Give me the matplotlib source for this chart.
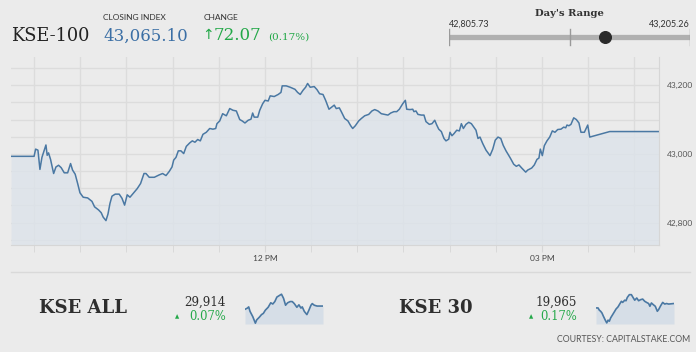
import matplotlib
matplotlib.use("Agg")
from matplotlib import pyplot as plt
import numpy as np

# ---- data (time = minutes after 09:00) ----
kse100_t = [15, 30, 31, 32.5, 33.8, 35.1, 36.6, 37.7, 38.5, 39.4, 40.7, 42.7, 44.2, 45.9,
             47.6, 49.6, 51.8, 53.7, 55, 56.7, 58.3, 59.8, 61.9, 64.8, 67.6, 69.3, 71.9,
             73.6, 74.9, 76.7, 78, 79.3, 80.6, 82.7, 85.3, 87.1, 88.8, 90.5, 92.3, 94.4,
             97, 99.2, 101.4, 102.7, 104.8, 108.1, 111.3, 113.5, 115.7, 117.8, 119.6,
             120.7, 122.2, 123.7, 125.4, 127.2, 128.9, 131.1, 132.8, 134.5, 136.3, 138,
             139.7, 141.9, 144.1, 146.2, 148, 148.8, 150.6, 152.5, 154.9, 157.1, 159.2,
             161.4, 163.6, 165.2, 167, 169.1, 170.9, 172, 173, 175.3, 176.6, 178.5, 180,
             182.1, 183.4, 186, 188.6, 190.4, 191.2, 193.8, 196.4, 199.5, 201.2, 202.9,
             204.7, 206.4, 207.7, 209.4, 212, 213.8, 215.5, 217.7, 219.4, 221.6, 223.3,
             225, 226.3, 228.3, 229.6, 231.8, 233.9, 235.7, 237, 238.7, 240.9, 242.6,
             244.8, 247.4, 249.5, 251.3, 253.4, 255.6, 257.8, 259.9, 261.7, 263.8, 265.6,
             267.3, 269.5, 271.2, 272.1, 274.2, 276, 276.8, 278.1, 279.4, 281.6, 283.3,
             284.6, 286.8, 288.5, 290.3, 291.6, 292.9, 294.6, 296.3, 297.6, 299.4, 300.2,
             301.5, 302.8, 304.6, 306.3, 307.6, 308.9, 310.6, 312.4, 314.1, 315.4, 317.1,
             318.4, 319.7, 321.5, 323.6, 326.2, 328, 329.6, 331.4, 333.2, 334.8, 336.6,
             339.4, 341.6, 343.3, 345, 346.8, 349.4, 350.7, 353.3, 355, 356.7, 358, 358.9,
             360.2, 361.5, 363.2, 365, 366.7, 368.4, 370.2, 372.3, 374.1, 375.4, 376.2,
             377.5, 378.8, 380.6, 382.3, 384, 385.3, 387.5, 389.7, 391, 404, 436]
kse100_v = [42993, 42993, 43014, 43011, 42955, 42990, 43011, 43026, 42996, 43003, 42984,
             42943, 42962, 42967, 42960, 42945, 42945, 42972, 42953, 42941, 42914, 42887,
             42874, 42872, 42862, 42846, 42837, 42829, 42816, 42806, 42825, 42856, 42877,
             42883, 42883, 42871, 42851, 42881, 42874, 42885, 42899, 42914, 42943, 42943,
             42932, 42932, 42939, 42943, 42937, 42949, 42962, 42982, 42990, 43009, 43009,
             43001, 43022, 43032, 43038, 43034, 43042, 43038, 43057, 43063, 43074, 43072,
             43074, 43088, 43096, 43117, 43111, 43132, 43127, 43125, 43100, 43096, 43090,
             43098, 43101, 43119, 43107, 43107, 43127, 43146, 43156, 43154, 43169, 43167,
             43173, 43179, 43198, 43198, 43194, 43188, 43179, 43173, 43185, 43194, 43205,
             43194, 43196, 43187, 43175, 43173, 43156, 43130, 43136, 43142, 43132, 43134,
             43123, 43103, 43096, 43082, 43074, 43082, 43096, 43103, 43111, 43115, 43125,
             43129, 43125, 43117, 43115, 43113, 43119, 43123, 43123, 43130, 43146, 43156,
             43130, 43129, 43130, 43123, 43125, 43115, 43113, 43113, 43094, 43086, 43088,
             43098, 43084, 43072, 43065, 43045, 43038, 43043, 43063, 43053, 43059, 43069,
             43067, 43088, 43074, 43086, 43092, 43088, 43080, 43069, 43045, 43049, 43030,
             43011, 42995, 43014, 43040, 43049, 43045, 43025, 43009, 42988, 42970, 42964,
             42968, 42959, 42947, 42953, 42959, 42968, 42984, 42988, 43014, 42995, 43024,
             43038, 43049, 43067, 43063, 43071, 43072, 43078, 43076, 43084, 43082, 43086,
             43105, 43100, 43090, 43063, 43063, 43084, 43049, 43065.1, 43065.1]

close_value = 43065.10
change = 72.07
change_pct = 0.17
day_low = 42805.73
day_high = 43205.26

y_labels = [42800, 43000, 43200]
x_labels = {180: "12 PM", 360: "03 PM"}

kse_all_t = [15, 28, 35, 42, 57, 71, 78, 93, 104, 114, 125, 140, 154, 165, 176, 187, 201,
             212, 223, 234, 245, 259, 270, 281, 295, 306, 317, 324, 335, 349, 360, 371,
             378, 389, 404, 436]
kse_all_v = [29906, 29909, 29912, 29901, 29888, 29872, 29880, 29887, 29893, 29896, 29904,
             29911, 29922, 29919, 29925, 29936, 29940, 29943, 29933, 29916, 29922, 29925,
             29925, 29920, 29911, 29917, 29909, 29912, 29901, 29893, 29904, 29916, 29920,
             29916, 29914, 29914]
kse30_t = [15, 26, 33, 40, 47, 55, 65, 73, 80, 87, 94, 105, 116, 123, 134, 141, 152, 159,
           170, 177, 184, 195, 206, 213, 224, 235, 245, 256, 267, 278, 288, 299, 306, 314,
           324, 335, 346, 353, 364, 375, 386, 396, 407, 436]
kse30_v = [19957, 19957, 19953, 19951, 19948, 19942, 19935, 19930, 19935, 19933, 19939,
           19945, 19951, 19955, 19959, 19963, 19969, 19967, 19971, 19970, 19976, 19981,
           19981, 19977, 19971, 19975, 19970, 19972, 19973, 19969, 19967, 19965, 19960,
           19966, 19963, 19960, 19951, 19954, 19961, 19967, 19964, 19965, 19964, 19965]

W, H = 696, 352
BG = "#ebebeb"
BLUE = "#3b6fa5"
LINE = "#4a78a3"
GREEN = "#23a848"
DARK = "#2e2e2e"


def rect(x0, y0, x1, y1):
    # pixel box (top-left origin) -> figure fraction
    return [x0 / W, 1 - y1 / H, (x1 - x0) / W, (y1 - y0) / H]


def ftext(x, y, s, **kw):
    fig.text(x / W, 1 - y / H, s, **kw)


fig = plt.figure(figsize=(W / 100, H / 100), dpi=100)
fig.patch.set_facecolor(BG)

# ---- main intraday chart ----
ax = fig.add_axes(rect(11, 57, 659, 245))
ax.set_facecolor(BG)
ylo = 42735
ax.fill_between(kse100_t, kse100_v, ylo, color="#dde3ea", alpha=0.8, lw=0)
ax.plot(kse100_t, kse100_v, color=LINE, lw=1.1)
ax.set_xlim(15, 436)
ax.set_ylim(ylo, 43282)
ax.set_xticks(list(x_labels.keys()))
ax.set_xticklabels(list(x_labels.values()))
ax.set_xticks(np.arange(30, 430, 30), minor=True)
ax.set_yticks(y_labels)
ax.set_yticklabels([f"{v:,}" for v in y_labels])
ax.set_yticks(np.arange(42750, 43300, 50), minor=True)
ax.grid(which="both", color="#dcdcdc", lw=1)
ax.set_axisbelow(True)
ax.yaxis.tick_right()
ax.tick_params(axis="y", which="both", length=0, pad=6, labelsize=6, labelcolor="#555555")
ax.tick_params(axis="x", which="both", length=5, color="#d6d6d6", pad=2,
               labelsize=6, labelcolor="#444444")
for lbl in ax.get_xticklabels() + ax.get_yticklabels():
    lbl.set_family("Lato")
for s in ["top", "left"]:
    ax.spines[s].set_visible(False)
for s in ["bottom", "right"]:
    ax.spines[s].set_color("#d6d6d6")

# separator line
fig.add_artist(plt.Line2D([11 / W, 690 / W], [1 - 272 / H] * 2, color="#d9d9d9", lw=1))

# ---- header ----
ftext(11, 36, "KSE-100", family="DejaVu Serif", size=12.8, color="#222222", va="center")
ftext(103, 17, "CLOSING INDEX", family="Lato", size=6, color="#333333", va="center")
ftext(103, 36, f"{close_value:,.2f}", family="DejaVu Serif", size=12, color=BLUE, va="center")
ftext(204, 17, "CHANGE", family="Lato", size=6, color="#333333", va="center")
ftext(202, 35, "\u2191", family="DejaVu Sans", size=10, color=GREEN, va="center")
ftext(214, 36, f"{change:.2f}", family="DejaVu Serif", size=12, color=GREEN, va="center")
ftext(268, 37, f"({change_pct:.2f}%)", family="DejaVu Serif", size=7.5, color=GREEN, va="center")

# day's range bar
rax = fig.add_axes(rect(449, 27, 690, 47))
rax.set_xlim(day_low, day_high)
rax.set_ylim(0, 1)
rax.axis("off")
rax.plot([day_low, day_high], [0.5, 0.5], color="#b0b0b0", lw=3.8, solid_capstyle="butt")
for xv in [day_low, (day_low + day_high) / 2, day_high]:
    rax.plot([xv, xv], [0.1, 0.9], color="#9a9a9a", lw=1)
rax.scatter([close_value], [0.5], s=70, color="#2a2a2a", zorder=3, clip_on=False)
ftext(569, 14, "Day's Range", family="DejaVu Serif", weight="bold", size=7.2,
      color="#333333", ha="center", va="center")
ftext(449, 24, f"{day_low:,.2f}", family="Lato", size=6.5, color="#333333", va="center")
ftext(690, 24, f"{day_high:,.2f}", family="Lato", size=6.5, color="#333333",
      ha="right", va="center")


# ---- bottom tickers ----
def ticker(name, name_x, val, pct, val_right, tri_x, box, ts, vs):
    ftext(name_x, 308, name, family="DejaVu Serif", weight="bold", size=13,
          color=DARK, va="center")
    ftext(val_right, 302, f"{val:,}", family="DejaVu Serif", size=8.6, color=DARK,
          ha="right", va="center")
    ftext(val_right, 317, f"{pct:.2f}%", family="DejaVu Serif", size=8.3, color=GREEN,
          ha="right", va="center")
    ftext(tri_x, 317, "\u25b2", family="DejaVu Sans", size=4, color=GREEN,
          ha="center", va="center")
    sax = fig.add_axes(rect(*box))
    lo = min(vs) - 2
    sax.fill_between(ts, vs, lo, color="#d6dee7", lw=0)
    sax.plot(ts, vs, color=LINE, lw=1.2)
    sax.set_xlim(ts[0], ts[-1])
    sax.set_ylim(lo, max(vs) + 3)
    sax.axis("off")


ticker("KSE ALL", 39, kse_all_v[-1], 0.07, 226, 177, (245, 293, 323, 324), kse_all_t, kse_all_v)
ticker("KSE 30", 399, kse30_v[-1], 0.17, 577, 531, (596, 293, 674, 324), kse30_t, kse30_v)

ftext(690, 340, "COURTESY: CAPITALSTAKE.COM", family="Lato", size=6.3, color="#555555",
      ha="right", va="center")

fig.savefig("out.png", dpi=100, facecolor=BG)
